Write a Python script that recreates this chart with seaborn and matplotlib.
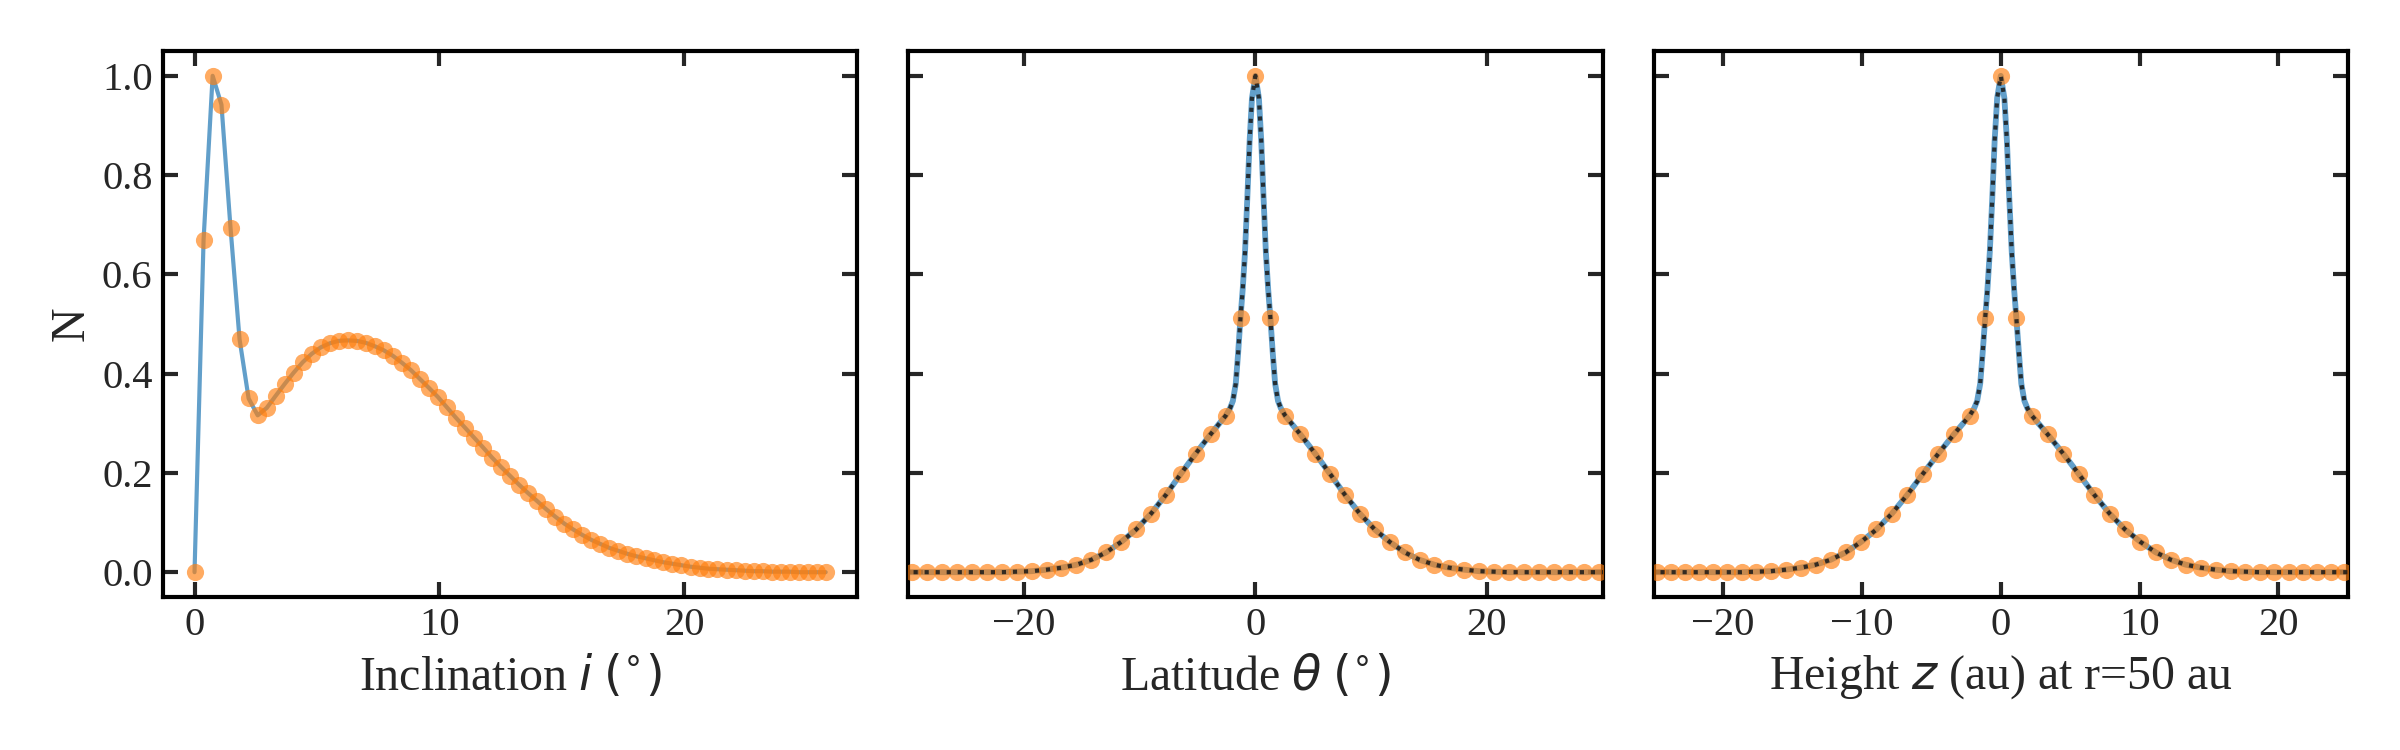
import numpy as np
import pandas as pd
import matplotlib
matplotlib.use("Agg")
import matplotlib.pyplot as plt
import seaborn as sns

# Inclination distribution (deg)
inc_deg = [0.00, 0.37, 0.74, 1.10, 1.47, 1.84, 2.21, 2.58, 2.95, 3.31,
           3.68, 4.05, 4.42, 4.79, 5.16, 5.52, 5.89, 6.26, 6.63, 7.00,
           7.37, 7.73, 8.10, 8.47, 8.84, 9.21, 9.58, 9.94, 10.31, 10.68,
           11.05, 11.42, 11.79, 12.15, 12.52, 12.89, 13.26, 13.63, 14.00, 14.36,
           14.73, 15.10, 15.47, 15.84, 16.21, 16.57, 16.94, 17.31, 17.68, 18.05,
           18.42, 18.78, 19.15, 19.52, 19.89, 20.26, 20.63, 20.99, 21.36, 21.73,
           22.10, 22.47, 22.84, 23.20, 23.57, 23.94, 24.31, 24.68, 25.05, 25.41,
           25.78]
inc_n = [0.000, 0.670, 1.000, 0.942, 0.694, 0.469, 0.350, 0.316, 0.331, 0.355,
         0.379, 0.402, 0.423, 0.440, 0.453, 0.461, 0.466, 0.467, 0.466, 0.462,
         0.455, 0.447, 0.436, 0.422, 0.407, 0.389, 0.371, 0.353, 0.332, 0.311,
         0.291, 0.271, 0.251, 0.231, 0.212, 0.194, 0.176, 0.159, 0.143, 0.127,
         0.112, 0.098, 0.086, 0.075, 0.065, 0.057, 0.049, 0.043, 0.037, 0.032,
         0.028, 0.024, 0.020, 0.017, 0.014, 0.011, 0.009, 0.007, 0.006, 0.005,
         0.004, 0.003, 0.002, 0.002, 0.001, 0.001, 0.001, 0.000, 0.000, 0.000,
         0.000]

# Latitude / height samples, positive half (the profile is symmetric)
lat_deg_half = [0.00, 1.29, 2.58, 3.87, 5.16, 6.45, 7.73, 9.02, 10.31, 11.60,
                12.89, 14.18, 15.47, 16.76, 18.05, 19.34, 20.63, 21.92, 23.20, 24.49,
                25.78, 27.07, 28.36, 29.65]
height_au_half = [0.00, 1.12, 2.25, 3.37, 4.49, 5.61, 6.73, 7.84, 8.95, 10.06,
                  11.16, 12.25, 13.34, 14.42, 15.49, 16.56, 17.61, 18.66, 19.70, 20.73,
                  21.75, 22.76, 23.75, 24.74]
lat_n_half = [1.000, 0.513, 0.315, 0.278, 0.239, 0.198, 0.156, 0.118, 0.086, 0.061,
              0.040, 0.025, 0.015, 0.009, 0.005, 0.002, 0.001, 0.000, 0.000, 0.000,
              0.000, 0.000, 0.000, 0.000]

# Smooth model curve, positive half
curve_lat_half = [0.00, 0.30, 0.50, 0.70, 0.90, 1.10, 1.29, 1.50, 1.70, 1.95,
                  2.20, 2.58, 3.87, 5.16, 6.45, 7.73, 9.02, 10.31, 11.60, 12.89,
                  14.18, 15.47, 16.76, 18.05, 19.34, 20.63, 21.92, 23.20, 24.49, 25.78,
                  27.07, 28.36, 29.65, 30.50]
curve_height_half = [0.00, 0.26, 0.44, 0.61, 0.79, 0.96, 1.12, 1.31, 1.48, 1.70,
                     1.92, 2.25, 3.37, 4.49, 5.61, 6.73, 7.84, 8.95, 10.06, 11.16,
                     12.25, 13.34, 14.42, 15.49, 16.56, 17.61, 18.66, 19.70, 20.73, 21.75,
                     22.76, 23.75, 24.74, 25.30]
curve_n_half = [1.000, 0.955, 0.870, 0.755, 0.645, 0.570, 0.513, 0.440, 0.380, 0.345,
                0.330, 0.315, 0.278, 0.239, 0.198, 0.156, 0.118, 0.086, 0.061, 0.040,
                0.025, 0.015, 0.009, 0.005, 0.002, 0.001, 0.000, 0.000, 0.000, 0.000,
                0.000, 0.000, 0.000, 0.000]


def mirror(xs, ys):
    xs = np.asarray(xs, dtype=float)
    ys = np.asarray(ys, dtype=float)
    return np.concatenate([-xs[:0:-1], xs]), np.concatenate([ys[:0:-1], ys])


sns.set_theme(style="ticks")
plt.rcParams["font.family"] = ["Liberation Serif", "DejaVu Serif"]
plt.rcParams["mathtext.fontset"] = "dejavusans"
plt.rcParams["axes.unicode_minus"] = True

BLUE = "#1f77b4"
ORANGE = "#ff7f0e"
LABEL_SIZE = 23
TICK_SIZE = 19.5

fig, axes = plt.subplots(1, 3, figsize=(16, 5), dpi=150, sharey=True)
fig.subplots_adjust(left=0.0679, right=0.9783, bottom=0.204, top=0.932, wspace=0.0735)

# panel 1: inclination
ax = axes[0]
df_inc = pd.DataFrame({"x": inc_deg, "n": inc_n})
sns.lineplot(data=df_inc, x="x", y="n", ax=ax, color=BLUE, alpha=0.7, lw=2,
             sort=False, estimator=None, zorder=2)
sns.scatterplot(data=df_inc, x="x", y="n", ax=ax, color=ORANGE, alpha=0.65,
                s=68, linewidth=0, zorder=3)
ax.set_xlabel("Inclination $i$ $(^{\\circ})$", fontsize=LABEL_SIZE)
ax.set_ylabel("N", fontsize=LABEL_SIZE)
ax.set_xticks([0, 10, 20])

# panels 2 and 3: latitude and height
for ax, pts_half, curve_half, xlabel, lim, ticks in [
    (axes[1], lat_deg_half, curve_lat_half, "Latitude $\\theta$ $(^{\\circ})$", 30, [-20, 0, 20]),
    (axes[2], height_au_half, curve_height_half, "Height $z$ (au) at r=50 au", 25, [-20, -10, 0, 10, 20]),
]:
    cx, cy = mirror(curve_half, curve_n_half)
    px, py = mirror(pts_half, lat_n_half)
    df_curve = pd.DataFrame({"x": cx, "n": cy})
    df_pts = pd.DataFrame({"x": px, "n": py})
    sns.lineplot(data=df_curve, x="x", y="n", ax=ax, color=BLUE, alpha=0.7, lw=2.8,
                 sort=False, estimator=None, zorder=2)
    sns.scatterplot(data=df_pts, x="x", y="n", ax=ax, color=ORANGE, alpha=0.65,
                    s=68, linewidth=0, zorder=3)
    sns.lineplot(data=df_curve, x="x", y="n", ax=ax, color="k", alpha=0.85, lw=2.0,
                 linestyle=":", sort=False, estimator=None, zorder=4)
    ax.set_xlim(-lim, lim)
    ax.set_xticks(ticks)
    ax.set_xlabel(xlabel, fontsize=LABEL_SIZE)
    ax.set_ylabel("")

axes[0].set_ylim(-0.05, 1.05)
axes[0].set_yticks([0.0, 0.2, 0.4, 0.6, 0.8, 1.0])
axes[0].yaxis.set_major_formatter(matplotlib.ticker.FormatStrFormatter("%.1f"))

for ax in axes:
    ax.tick_params(direction="in", top=True, right=True, length=7, width=2,
                   labelsize=TICK_SIZE, pad=5)
    for sp in ax.spines.values():
        sp.set_linewidth(2)
        sp.set_color("black")
    ax.grid(False)

fig.savefig("out.png", dpi=150)
